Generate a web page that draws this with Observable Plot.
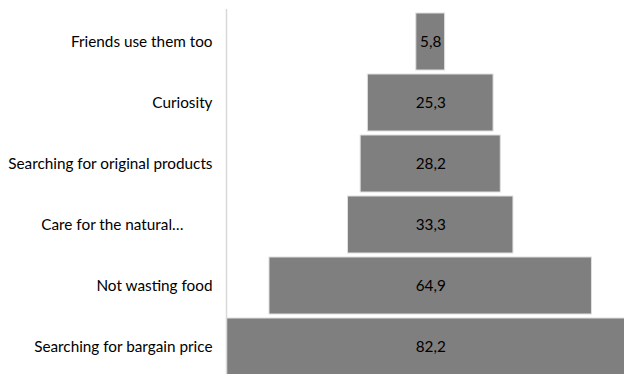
<!DOCTYPE html>
<html>
<head>
<meta charset="utf-8">
<script src="https://cdn.jsdelivr.net/npm/d3@7"></script>
<script src="https://cdn.jsdelivr.net/npm/@observablehq/plot@0.6"></script>
<style>
  html, body { margin: 0; padding: 0; background: #fff; overflow: hidden; }
  #chart svg { display: block; }
</style>
</head>
<body>
<div id="chart"></div>
<script>
const categories = [
  "Friends use them too",
  "Curiosity",
  "Searching for original products",
  "Care for the natural…",
  "Not wasting food",
  "Searching for bargain price"
];
const values = [5.8, 25.3, 28.2, 33.3, 64.9, 82.2];

const data = categories.map((c, i) => ({category: c, value: values[i]}));
const maxV = d3.max(values);
const fmt = v => v.toFixed(1).replace(".", ",");
const font = "Lato, 'Open Sans', sans-serif";

const chart = Plot.plot({
  width: 624,
  height: 374,
  marginLeft: 226,
  marginRight: 0,
  marginTop: 9,
  marginBottom: 0,
  style: {fontFamily: font, fontSize: "15.3px", color: "#000", background: "#fff"},
  x: {domain: [-maxV / 2, 39.0], axis: null},
  y: {domain: categories, range: [10.7, 377], paddingInner: 0.06, paddingOuter: 0, label: null, tickSize: 0, tickPadding: 14},
  marks: [
    Plot.barX(data, {
      y: "category",
      x1: d => -d.value / 2,
      x2: d => d.value / 2,
      fill: "#7f7f7f",
      stroke: "#e0e0e0",
      strokeWidth: 1,
      clip: true
    }),
    Plot.text(data, {
      y: "category",
      x: 0,
      text: d => fmt(d.value),
      fill: "#000",
      fontSize: 15.3,
      fontFamily: font
    }),
    Plot.ruleX([-maxV / 2], {stroke: "#d9d9d9", strokeWidth: 1.5, y1: null, y2: null})
  ]
});
chart.style.overflow = "hidden";
// the truncated label is centred in its wrap box in the original, not right-aligned
chart.querySelectorAll("[aria-label='y-axis tick label'] text").forEach(t => {
  if (t.textContent.endsWith("…")) t.setAttribute("dx", "-29");
});
document.getElementById("chart").appendChild(chart);
</script>
</body>
</html>
